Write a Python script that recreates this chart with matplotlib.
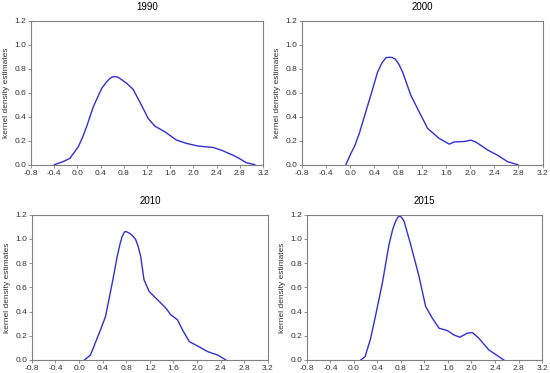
import matplotlib
matplotlib.use("Agg")
import matplotlib.pyplot as plt
import numpy as np

plt.rcParams["font.family"] = ["Liberation Sans", "DejaVu Sans"]

# values
years = ["1990", "2000", "2010", "2015"]

x_1990 = [-0.40, -0.25, -0.13, 0.015, 0.09, 0.158, 0.273, 0.417, 0.50, 0.56, 0.60, 0.646,
          0.69, 0.732, 0.85, 0.962, 1.105, 1.22, 1.335, 1.507, 1.708, 1.88, 2.08, 2.34,
          2.48, 2.68, 2.80, 2.91, 3.06]
y_1990 = [0.0, 0.025, 0.053, 0.15, 0.23, 0.317, 0.483, 0.636, 0.69, 0.72, 0.732, 0.736,
          0.732, 0.72, 0.68, 0.628, 0.497, 0.386, 0.322, 0.275, 0.206, 0.178, 0.156, 0.144,
          0.122, 0.08, 0.05, 0.017, 0.0]

x_2000 = [-0.07, 0.014, 0.08, 0.153, 0.32, 0.459, 0.53, 0.598, 0.65, 0.70, 0.75, 0.81,
          0.873, 1.01, 1.15, 1.29, 1.48, 1.65, 1.73, 1.90, 2.01, 2.09, 2.29, 2.45, 2.62,
          2.79]
y_2000 = [0.0, 0.094, 0.16, 0.261, 0.539, 0.775, 0.85, 0.894, 0.897, 0.895, 0.883, 0.84,
          0.775, 0.58, 0.44, 0.303, 0.22, 0.172, 0.19, 0.194, 0.205, 0.19, 0.122, 0.08,
          0.025, 0.0]

x_2010 = [0.09, 0.193, 0.363, 0.448, 0.562, 0.647, 0.70, 0.732, 0.772, 0.80, 0.845, 0.90,
          0.959, 1.0, 1.044, 1.10, 1.186, 1.328, 1.47, 1.555, 1.668, 1.753, 1.867, 2.008,
          2.18, 2.349, 2.49]
y_2010 = [0.0, 0.041, 0.249, 0.359, 0.636, 0.857, 0.97, 1.023, 1.059, 1.06, 1.05, 1.03,
          0.995, 0.94, 0.857, 0.664, 0.567, 0.498, 0.429, 0.373, 0.332, 0.249, 0.152, 0.116,
          0.069, 0.041, 0.0]

x_2015 = [0.117, 0.19, 0.28, 0.371, 0.484, 0.597, 0.66, 0.71, 0.745, 0.778, 0.81, 0.852,
          0.965, 1.107, 1.22, 1.333, 1.446, 1.588, 1.70, 1.802, 1.927, 2.012, 2.125, 2.295,
          2.465, 2.55]
y_2015 = [0.0, 0.028, 0.17, 0.373, 0.636, 0.954, 1.08, 1.147, 1.178, 1.189, 1.178, 1.147,
          0.954, 0.691, 0.442, 0.346, 0.263, 0.243, 0.207, 0.188, 0.221, 0.227, 0.18, 0.083,
          0.028, 0.0]

xs = [x_1990, x_2000, x_2010, x_2015]
ys = [y_1990, y_2000, y_2010, y_2015]

x_ticks = [-0.8, -0.4, 0.0, 0.4, 0.8, 1.2, 1.6, 2.0, 2.4, 2.8, 3.2]
y_ticks = [0.0, 0.2, 0.4, 0.6, 0.8, 1.0, 1.2]

fig = plt.figure(figsize=(5.5, 3.73), dpi=100)

# axes boxes [left, bottom, width, height] in figure fractions
boxes = [
    [0.0564, 0.5584, 0.4218, 0.3853],
    [0.549, 0.5584, 0.4374, 0.3853],
    [0.058, 0.0349, 0.429, 0.3895],
    [0.558, 0.0349, 0.4275, 0.3895],
]

for year, x, y, box in zip(years, xs, ys, boxes):
    ax = fig.add_axes(box)
    ax.plot(x, y, color="#3030d8", linewidth=1.0)
    ax.set_xlim(-0.8, 3.2)
    ax.set_ylim(0.0, 1.2)
    ax.set_xticks(x_ticks)
    ax.set_yticks(y_ticks)
    ax.set_xticklabels([f"{t:.1f}" for t in x_ticks])
    ax.set_yticklabels([f"{t:.1f}" for t in y_ticks])
    ax.tick_params(labelsize=6, length=2, width=0.6, color="#808080", pad=1.5,
                   labelcolor="#333333")
    for s in ax.spines.values():
        s.set_color("#808080")
        s.set_linewidth(0.8)
    ax.set_title(year, fontsize=7, pad=8)
    ax.set_ylabel("kernel density estimates", fontsize=6, labelpad=3, color="#333333")

fig.savefig("out.png", dpi=100)
